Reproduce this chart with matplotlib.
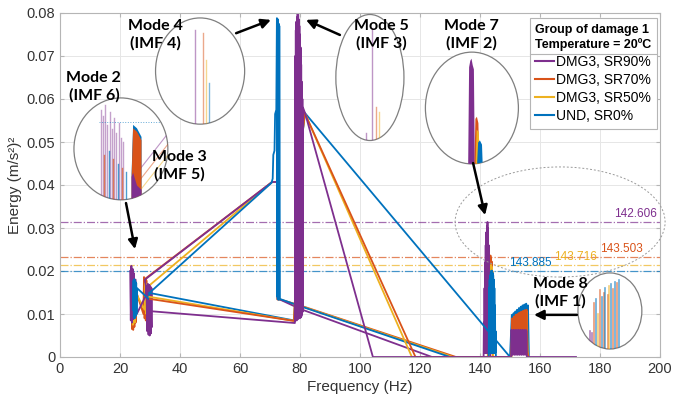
import numpy as np
import matplotlib
matplotlib.use('Agg')
import matplotlib.pyplot as plt
from matplotlib.patches import Ellipse
from matplotlib.lines import Line2D

plt.rcParams['font.family'] = ['Liberation Sans', 'DejaVu Sans']

# ---- series info ----
labels = ['DMG3, SR90%', 'DMG3, SR70%', 'DMG3, SR50%', 'UND, SR0%']
colors = ['#7E2F8E', '#D95319', '#EDB120', '#0072BD']
peak_freq = ['142.606', '143.503', '143.716', '143.885']
peak_energy = [0.0314, 0.0232, 0.0214, 0.0201]

# ---- traces (freq Hz, energy (m/s^2)^2) ----
# part A: mode 2/3 -> mode 4 -> lower branch -> mode 7
sr90_a_f = [23.4, 23.6, 23.8, 24.0, 24.2, 24.4, 24.6, 24.9, 25.2, 25.6,
            28.4, 28.8, 29.1, 29.3, 29.5, 29.7, 29.9, 30.1, 30.3, 30.5, 30.7, 28.3,
            70.7, 72.4, 72.5, 73.2, 80.0, 124.0,
            141.2, 141.3, 141.4, 141.5, 141.6, 141.7, 141.8, 141.9, 142.0, 142.1, 142.2, 142.3,
            142.4, 142.5, 142.6, 142.7, 142.8, 142.9, 143.0, 143.1, 143.2, 143.3, 143.4]
sr90_a_e = [0.0200, 0.0085, 0.0212, 0.0080, 0.0205, 0.0088, 0.0195, 0.0092, 0.0180, 0.0100,
            0.0140, 0.0165, 0.0060, 0.0170, 0.0052, 0.0168, 0.0050, 0.0165, 0.0055, 0.0160, 0.0070, 0.0180,
            0.0407, 0.0407, 0.0134, 0.0134, 0.0112, 0.0,
            0.0, 0.0080, 0.0010, 0.0160, 0.0010, 0.0220, 0.0010, 0.0260, 0.0010, 0.0290, 0.0010, 0.0305,
            0.0010, 0.0314, 0.0010, 0.0300, 0.0010, 0.0260, 0.0010, 0.0200, 0.0010, 0.0120, 0.0]

sr70_a_f = [23.8, 24.0, 24.2, 24.4, 24.6, 24.8, 25.0, 25.2, 25.5,
            27.8, 28.0, 28.2, 28.4, 28.6, 28.8, 29.0, 28.6,
            70.7, 72.4, 72.5, 73.2, 80.0, 132.0,
            142.6, 142.7, 142.8, 142.9, 143.0, 143.1, 143.2, 143.3, 143.4, 143.5,
            143.6, 143.7, 143.8, 143.9, 144.0, 144.1, 144.2]
sr70_a_e = [0.0180, 0.0065, 0.0185, 0.0063, 0.0170, 0.0070, 0.0160, 0.0080, 0.0150,
            0.0100, 0.0186, 0.0090, 0.0182, 0.0085, 0.0178, 0.0095, 0.0183,
            0.0407, 0.0407, 0.0134, 0.0134, 0.0120, 0.0,
            0.0, 0.0190, 0.0010, 0.0210, 0.0010, 0.0225, 0.0010, 0.0232, 0.0010, 0.0236,
            0.0010, 0.0230, 0.0010, 0.0222, 0.0010, 0.0200, 0.0]

sr50_a_f = [24.0, 24.3, 24.6, 24.9, 25.2,
            28.2, 28.5, 28.8, 29.1, 29.4, 29.2,
            70.7, 72.4, 72.5, 73.2, 80.0, 131.0,
            142.8, 142.9, 143.0, 143.1, 143.2, 143.3, 143.4, 143.5, 143.6, 143.7,
            143.8, 143.9, 144.0, 144.1, 144.2, 144.3, 144.4]
sr50_a_e = [0.0170, 0.0075, 0.0165, 0.0080, 0.0150,
            0.0110, 0.0172, 0.0100, 0.0168, 0.0110, 0.0163,
            0.0407, 0.0407, 0.0134, 0.0134, 0.0119, 0.0,
            0.0, 0.0180, 0.0010, 0.0200, 0.0010, 0.0210, 0.0010, 0.0212, 0.0010, 0.0214,
            0.0010, 0.0210, 0.0010, 0.0200, 0.0010, 0.0180, 0.0]

und_a_f = [24.3, 24.5, 24.6, 24.8, 24.9, 25.1, 25.2, 25.4, 25.5, 25.7,
           29.6, 29.8,
           70.5, 70.9, 71.1, 71.5, 71.7, 72.1, 72.3, 72.4, 72.5, 72.6, 72.7, 72.8,
           72.9, 73.0, 73.1, 73.3, 80.2, 130.0,
           142.9, 143.0, 143.1, 143.2, 143.3, 143.4, 143.5, 143.6, 143.7, 143.8, 143.9, 144.0,
           144.1, 144.2, 144.3, 144.4, 144.5, 144.6, 144.7, 144.8, 144.9, 145.0, 145.1, 145.2, 145.3]
und_a_e = [0.0110, 0.0178, 0.0092, 0.0181, 0.0090, 0.0176, 0.0095, 0.0172, 0.0100, 0.0160,
           0.0135, 0.0149,
           0.0405, 0.0415, 0.0470, 0.0480, 0.0565, 0.0575, 0.0788, 0.0140, 0.0780, 0.0135, 0.0785, 0.0134,
           0.0775, 0.0133, 0.0770, 0.0135, 0.0118, 0.0,
           0.0, 0.0160, 0.0010, 0.0180, 0.0010, 0.0190, 0.0010, 0.0198, 0.0010, 0.0201, 0.0010, 0.0200,
           0.0010, 0.0196, 0.0010, 0.0190, 0.0010, 0.0180, 0.0010, 0.0160, 0.0010, 0.0120, 0.0010, 0.0060, 0.0]

# part B: mode 3 -> mode 5 -> upper branch -> mode 8
sr90_b_f = [29.4, 78.3,
            78.4, 78.5, 78.6, 78.7, 78.8, 78.9, 79.0, 79.1, 79.2, 79.3, 79.4, 79.5, 79.6, 79.7,
            79.8, 79.9, 80.0, 80.1, 80.2, 80.3, 80.4, 80.5, 80.6, 80.7, 80.8, 80.9, 81.0,
            81.7, 104.3, 150.4,
            150.5, 150.8, 151.1, 151.4, 151.7, 152.0, 152.3, 152.6, 152.9, 153.2, 153.5, 153.8,
            154.1, 154.4, 154.7, 155.0, 155.3, 155.5, 155.6, 172.0]
sr90_b_e = [0.0107, 0.0079,
            0.0700, 0.0085, 0.0760, 0.0090, 0.0780, 0.0085, 0.0790, 0.0090, 0.0800, 0.0088, 0.0798, 0.0090, 0.0785, 0.0092,
            0.0770, 0.0090, 0.0750, 0.0095, 0.0720, 0.0092, 0.0680, 0.0095, 0.0640, 0.0100, 0.0600, 0.0105, 0.0580,
            0.0567, 0.0, 0.0,
            0.0063, 0.0005, 0.0063, 0.0005, 0.0063, 0.0005, 0.0063, 0.0005, 0.0063, 0.0005, 0.0063, 0.0005,
            0.0063, 0.0005, 0.0063, 0.0005, 0.0063, 0.0060, 0.0, 0.0]

sr70_b_f = [30.0, 78.0, 79.5, 80.5, 81.6, 118.5,
            150.4, 150.7, 151.0, 151.3, 151.6, 151.9, 152.2, 152.5, 152.8, 153.1,
            153.4, 153.7, 154.0, 154.3, 154.6, 154.9, 155.2, 155.5, 155.8, 156.1]
sr70_b_e = [0.0135, 0.0084, 0.0300, 0.0500, 0.0567, 0.0,
            0.0, 0.0090, 0.0012, 0.0094, 0.0012, 0.0098, 0.0012, 0.0100, 0.0012, 0.0103,
            0.0012, 0.0105, 0.0012, 0.0107, 0.0012, 0.0109, 0.0012, 0.0110, 0.0012, 0.0]

sr50_b_f = [29.8, 78.0, 79.5, 80.5, 81.6, 117.3,
            150.5, 150.8, 151.1, 151.4, 151.7, 152.0, 152.3, 152.6, 152.9, 153.2,
            153.5, 153.8, 154.1, 154.4, 154.7, 155.0, 155.3, 155.6, 155.9, 156.2]
sr50_b_e = [0.0140, 0.0084, 0.0300, 0.0500, 0.0567, 0.0,
            0.0, 0.0088, 0.0012, 0.0092, 0.0012, 0.0095, 0.0012, 0.0098, 0.0012, 0.0100,
            0.0012, 0.0102, 0.0012, 0.0104, 0.0012, 0.0105, 0.0012, 0.0106, 0.0012, 0.0]

und_b_f = [29.8, 78.0, 79.5, 80.5, 81.7, 150.0,
           150.6, 150.9, 151.2, 151.5, 151.8, 152.1, 152.4, 152.7, 153.0, 153.3,
           153.6, 153.9, 154.2, 154.5, 154.8, 155.1, 155.4, 155.7, 156.0, 156.3]
und_b_e = [0.0149, 0.0085, 0.0300, 0.0500, 0.0567, 0.0,
           0.0098, 0.0015, 0.0102, 0.0015, 0.0106, 0.0015, 0.0110, 0.0015, 0.0114, 0.0015,
           0.0117, 0.0015, 0.0120, 0.0015, 0.0122, 0.0015, 0.0124, 0.0015, 0.0120, 0.0]

# ---- zoomed inset contents ----
ins23_f = [13.5, 14.2, 15.0, 15.8, 16.6, 17.3, 18.0, 18.8, 19.5, 20.3, 21.0]
ins23_top = [0.0575, 0.0560, 0.0586, 0.0540, 0.0570, 0.0530, 0.0555, 0.0520, 0.0545, 0.0510, 0.0500]
ins23_f2 = [14.6, 16.2, 17.7, 19.2, 20.6, 22.0]
ins23_top2 = [0.0470, 0.0480, 0.0460, 0.0450, 0.0440, 0.0430]
ins23_fill_f = [23.7, 24.2, 25.5, 27.0]
ins23_fill_top = [0.0420, 0.0533, 0.0525, 0.0505]
ins23_low_top = [0.0420, 0.0430, 0.0400, 0.0390]

ins4_f = [45.0, 47.7, 48.7, 49.7]
ins4_top = [0.0760, 0.0753, 0.0690, 0.0637]

ins5_f = [102.0, 104.0, 105.3, 106.3]
ins5_top = [0.0520, 0.0765, 0.0581, 0.0570]
ins5_col = [0, 0, 1, 2]

ins7_f = [[135.9, 136.2, 136.6, 137.0, 137.4, 137.8, 138.1],
          [138.0, 138.3, 138.8, 139.3, 139.6],
          [138.4, 138.7, 139.4, 139.9],
          [138.9, 139.2, 139.8, 140.5, 140.7]]
ins7_top = [[0.0455, 0.0675, 0.0690, 0.0695, 0.0680, 0.0670, 0.0455],
            [0.0455, 0.0555, 0.0560, 0.0545, 0.0455],
            [0.0455, 0.0530, 0.0525, 0.0455],
            [0.0455, 0.0500, 0.0505, 0.0495, 0.0455]]

ins8_f = [176.5, 177.3, 178.0, 178.7, 179.3, 180.0, 180.6, 181.2,
          181.8, 182.5, 183.1, 183.7, 184.3, 185.0, 185.6, 186.2]
ins8_top = [0.0060, 0.0055, 0.0125, 0.0135, 0.0100, 0.0155, 0.0140, 0.0150,
            0.0160, 0.0145, 0.0165, 0.0170, 0.0158, 0.0175, 0.0172, 0.0178]
ins8_col = [0, 0, 1, 3, 2, 1, 3, 1, 3, 1, 2, 3, 1, 3, 1, 3]

fig = plt.figure(figsize=(6.73, 4.09), dpi=100)
ax = fig.add_axes([60/673, 52/409, 600/673, 344/409])

# reference lines at the mode 7 peaks
for c, e in zip(colors, peak_energy):
    ax.axhline(e, color=c, ls='-.', lw=0.9, alpha=0.7, zorder=1.5)

parts_a = [(sr70_a_f, sr70_a_e, 1), (sr50_a_f, sr50_a_e, 2),
           (sr90_a_f, sr90_a_e, 0), (und_a_f, und_a_e, 3)]
parts_b = [(und_b_f, und_b_e, 3), (sr50_b_f, sr50_b_e, 2),
           (sr70_b_f, sr70_b_e, 1), (sr90_b_f, sr90_b_e, 0)]
for f, e, i in parts_a + parts_b:
    ax.plot(f, e, color=colors[i], lw=1.3, zorder=2)

# peak value labels
lab_x = [199.0, 194.3, 179.0, 164.0]
lab_y = [0.0333, 0.0251, 0.0233, 0.0219]
for i in range(4):
    ax.text(lab_x[i], lab_y[i], peak_freq[i], color=colors[i], fontsize=8.5,
            ha='right', va='center', zorder=4)

# dashed highlight around the mode 7 peaks
ax.add_patch(Ellipse((166.7, 0.0314), 70, 0.0256, fill=False, ls=(0, (2, 2)),
                     ec='#9a9a9a', lw=0.7, clip_on=False, zorder=3))

def inset(cx, cy, w, h):
    el = Ellipse((cx, cy), w, h, facecolor='white', edgecolor='#7f7f7f', lw=0.9, zorder=3)
    ax.add_patch(el)
    return el

# mode 2/3 inset
el = inset(20.3, 0.0484, 31.3, 0.0237)
for f, t in zip(ins23_f, ins23_top):
    ln, = ax.plot([f, f], [0.036, t], color=colors[0], lw=1.0, alpha=0.45, zorder=3.5)
    ln.set_clip_path(el)
for k, (f, t) in enumerate(zip(ins23_f2, ins23_top2)):
    ln, = ax.plot([f, f], [0.036, t], color=colors[3 if k % 2 else 1], lw=1.0, alpha=0.7, zorder=3.5)
    ln.set_clip_path(el)
p = ax.fill_between(ins23_fill_f, 0.036, [t + 0.0008 for t in ins23_fill_top], color=colors[3], zorder=3.5, lw=0)
p.set_clip_path(el)
p = ax.fill_between(ins23_fill_f, 0.036, ins23_fill_top, color=colors[1], zorder=3.6, lw=0)
p.set_clip_path(el)
p = ax.fill_between(ins23_fill_f, 0.036, ins23_low_top, color=colors[0], zorder=3.7, lw=0)
p.set_clip_path(el)
for i, dy in [(1, 0.0), (2, -0.0025), (0, 0.0025)]:
    ln, = ax.plot([27.0, 36.0], [0.0415 + dy, 0.0495 + dy], color=colors[i], lw=0.8, alpha=0.5, zorder=3.5)
    ln.set_clip_path(el)
ln, = ax.plot([13.0, 36.0], [0.0547, 0.0547], color=colors[3], lw=0.7, ls=':', alpha=0.6, zorder=3.5)
ln.set_clip_path(el)

# mode 4 inset
el = inset(46.7, 0.0665, 29.7, 0.0247)
for k, (f, t) in enumerate(zip(ins4_f, ins4_top)):
    ln, = ax.plot([f, f], [0.0530, t], color=colors[k], lw=1.0, alpha=0.5, zorder=3.5)
    ln.set_clip_path(el)

# mode 5 inset
el = inset(103.3, 0.065, 22.7, 0.0293)
for f, t, c in zip(ins5_f, ins5_top, ins5_col):
    ln, = ax.plot([f, f], [0.0490, t], color=colors[c], lw=1.0, alpha=0.5, zorder=3.5)
    ln.set_clip_path(el)

# mode 7 inset
el = inset(137.3, 0.0579, 31.0, 0.026)
for k in [0, 1, 2, 3]:
    p = ax.fill_between(ins7_f[k], 0.0440, ins7_top[k], color=colors[k], lw=0, zorder=3.5 + 0.1 * k)
    p.set_clip_path(el)

# mode 8 inset
el = inset(183.3, 0.0107, 21.3, 0.0177)
for f, t, c in zip(ins8_f, ins8_top, ins8_col):
    ln, = ax.plot([f, f], [0.001, t], color=colors[c], lw=1.2, alpha=0.6, zorder=3.5)
    ln.set_clip_path(el)

# mode annotations
mode_txt = ['Mode 2\n(IMF 6)', 'Mode 3\n(IMF 5)', 'Mode 4\n(IMF 4)',
            'Mode 5\n(IMF 3)', 'Mode 7\n(IMF 2)', 'Mode 8\n(IMF 1)']
mode_xy = [(11.3, 0.0628), (39.7, 0.0444), (31.7, 0.0749),
           (107.0, 0.0749), (137.0, 0.0749), (166.7, 0.0149)]
for t, (x, y) in zip(mode_txt, mode_xy):
    ax.text(x, y, t, ha='center', va='center', fontsize=11.5, fontweight='bold',
            family='Lato', linespacing=1.25, zorder=6)

arrows = [((22.0, 0.0358), (25.0, 0.0251)), ((58.7, 0.0753), (70.3, 0.0784)),
          ((93.3, 0.0749), (82.0, 0.0784)), ((137.7, 0.0451), (141.7, 0.0330)),
          ((172.3, 0.0098), (158.0, 0.0098))]
for tail, head in arrows:
    ax.annotate('', xy=head, xytext=tail, zorder=6,
                arrowprops=dict(arrowstyle='-|>', color='black', lw=1.8, mutation_scale=14,
                                shrinkA=0, shrinkB=0))

# axes styling
ax.set_xlim(0, 200)
ax.set_ylim(0, 0.08)
ax.set_xticks(np.arange(0, 201, 20))
ax.set_yticks(np.arange(0, 0.0801, 0.01))
ax.set_yticklabels(['0', '0.01', '0.02', '0.03', '0.04', '0.05', '0.06', '0.07', '0.08'])
ax.grid(True, color='#e6e6e6', lw=0.7)
ax.set_axisbelow(True)
for s in ax.spines.values():
    s.set_color('#b5b5b5')
    s.set_linewidth(0.8)
ax.tick_params(direction='in', length=3, color='#b5b5b5', labelsize=10.5,
               labelcolor='#333333', top=True, right=True, labeltop=False, labelright=False)
ax.set_xlabel('Frequency (Hz)', fontsize=11, color='#333333', labelpad=3)
ax.set_ylabel('Energy (m/s²)²', fontsize=11, color='#333333', labelpad=3)

handles = [Line2D([0], [0], color=c, lw=1.5) for c in colors]
leg = ax.legend(handles, labels, title='Group of damage 1\nTemperature = 20ºC',
                loc='upper right', bbox_to_anchor=(0.995, 0.985), borderaxespad=0,
                fontsize=10, title_fontproperties={'weight': 'bold', 'size': 9},
                handlelength=1.3, handletextpad=0.2, labelspacing=0.3,
                borderpad=0.4, fancybox=False, framealpha=1, edgecolor='#b5b5b5')
leg.get_frame().set_linewidth(0.8)
leg.set_zorder(10)

# separator under the legend title
fig.canvas.draw()
tb = leg.get_title().get_window_extent()
fb = leg.get_frame().get_window_extent()
inv = ax.transAxes.inverted()
x0, ysep = inv.transform((fb.x0, tb.y0 - 3))
x1, _ = inv.transform((fb.x1, tb.y0 - 3))
ax.plot([x0, x1], [ysep, ysep], transform=ax.transAxes, color='#b5b5b5',
        lw=0.8, clip_on=False, zorder=11)

fig.savefig('out.png', dpi=100)
